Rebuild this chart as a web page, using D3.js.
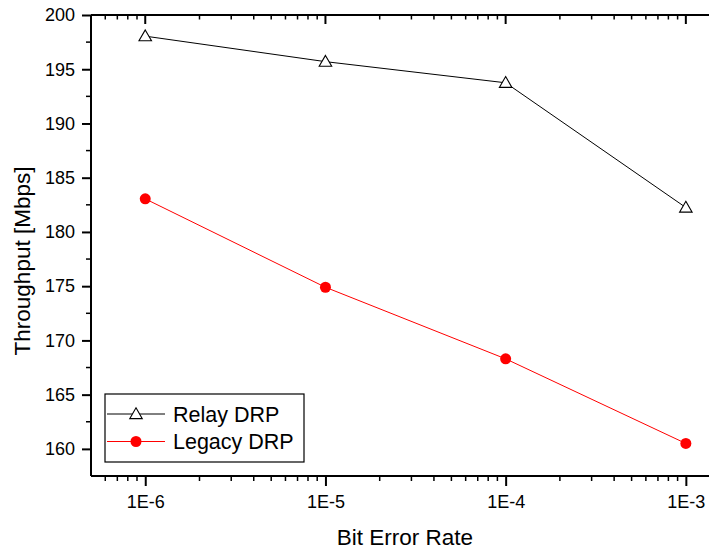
<!DOCTYPE html>
<html>
<head>
<meta charset="utf-8">
<script src="https://cdn.jsdelivr.net/npm/d3@7"></script>
<style>
  body { margin: 0; background: #fff; }
  text { font-family: Arial, "Liberation Sans", sans-serif; fill: #000; }
</style>
</head>
<body>
<svg width="709" height="550"></svg>
<script>
// data
const berValues = [1e-6, 1e-5, 1e-4, 1e-3];
const tickLabels = ['1E-6', '1E-5', '1E-4', '1E-3'];
const relayValues = [198.05, 195.7, 193.75, 182.25];
const legacyValues = [183.05, 174.9, 168.3, 160.5];
const seriesNames = ['Relay DRP', 'Legacy DRP'];

var svg = d3.select('svg'),
    plotLeft = 91, plotTop = 15, plotBottom = 476,
    decade = 180.2;

// x domain runs past the right edge of the picture, like the source
var x = d3.scaleLog()
    .domain([5e-7, 2e-3])
    .range([plotLeft, plotLeft + decade * Math.log10(2e-3 / 5e-7)]);
var y = d3.scaleLinear().domain([157.5, 200]).range([plotBottom, plotTop]);

const g = svg.append('g');

// minor ticks for the log axis
var minorX = [];
for (let e = -7; e <= -3; e++) {
  for (let m = 2; m <= 9; m++) {
    const v = m * Math.pow(10, e);
    if (v > x.domain()[0] && v < x.domain()[1]) minorX.push(v);
  }
}

// bottom axis
const xAxis = g.append('g').attr('transform', `translate(0,${plotBottom})`);
xAxis.call(d3.axisBottom(x).tickValues(berValues).tickFormat((d, i) => tickLabels[i]).tickSizeOuter(0).tickSize(10).tickPadding(9));
minorX.forEach(v => {
  xAxis.append('line').attr('x1', x(v)).attr('x2', x(v)).attr('y1', 0).attr('y2', 5)
    .attr('stroke', '#000').attr('stroke-width', 1.5);
});

// top axis, ticks inward
const topAxis = g.append('g').attr('transform', `translate(0,${plotTop})`);
topAxis.append('line').attr('x1', plotLeft).attr('x2', x.range()[1]).attr('stroke', '#000').attr('stroke-width', 2);
berValues.forEach(v => {
  topAxis.append('line').attr('x1', x(v)).attr('x2', x(v)).attr('y1', 0).attr('y2', 9)
    .attr('stroke', '#000').attr('stroke-width', 2);
});
minorX.forEach(v => {
  topAxis.append('line').attr('x1', x(v)).attr('x2', x(v)).attr('y1', 0).attr('y2', 4.5)
    .attr('stroke', '#000').attr('stroke-width', 1.5);
});

// left axis
const yAxis = g.append('g').attr('transform', `translate(${plotLeft},0)`);
yAxis.call(d3.axisLeft(y).tickValues(d3.range(160, 201, 5)).tickSizeOuter(0).tickSize(9).tickPadding(7));
d3.range(162.5, 200, 5).forEach(v => {
  yAxis.append('line').attr('x1', -5).attr('x2', 0).attr('y1', y(v)).attr('y2', y(v))
    .attr('stroke', '#000').attr('stroke-width', 1.5);
});

[xAxis, yAxis].forEach(a => {
  a.attr('font-size', 18).attr('font-family', 'Arial, "Liberation Sans", sans-serif');
  a.select('.domain').attr('stroke-width', 2);
  a.selectAll('.tick line').attr('stroke-width', 2);
});
xAxis.select('.domain').attr('d', `M${plotLeft},0H${x.range()[1]}`);
yAxis.select('.domain').attr('d', `M0,${plotBottom}V${plotTop}`);

// axis titles
svg.append('text').attr('x', 405).attr('y', 545).attr('text-anchor', 'middle')
  .attr('font-size', 22.5).text('Bit Error Rate');
svg.append('text').attr('transform', 'translate(30,261) rotate(-90)').attr('text-anchor', 'middle')
  .attr('font-size', 22.5).text('Throughput [Mbps]');

// series
var line = d3.line().x((d, i) => x(berValues[i])).y(d => y(d));
const tri = d3.symbol().type(d3.symbolTriangle).size(68);

g.append('path').datum(relayValues).attr('fill', 'none').attr('stroke', '#000').attr('stroke-width', 1).attr('d', line);
g.selectAll('.relay').data(relayValues).enter().append('path')
  .attr('class', 'relay')
  .attr('transform', (d, i) => `translate(${x(berValues[i])},${y(d) + 1})`)
  .attr('d', tri).attr('fill', '#fff').attr('stroke', '#000').attr('stroke-width', 1.1);

g.append('path').datum(legacyValues).attr('fill', 'none').attr('stroke', '#ff0000').attr('stroke-width', 1).attr('d', line);
g.selectAll('.legacy').data(legacyValues).enter().append('circle')
  .attr('class', 'legacy')
  .attr('cx', (d, i) => x(berValues[i])).attr('cy', d => y(d))
  .attr('r', 5.5).attr('fill', '#ff0000');

// legend
const lg = svg.append('g').attr('transform', 'translate(105,394)');
lg.append('rect').attr('width', 199).attr('height', 68).attr('fill', '#fff').attr('stroke', '#000').attr('stroke-width', 1.2);
const rows = [
  { y: 20, color: '#000', marker: 'tri' },
  { y: 47.5, color: '#ff0000', marker: 'dot' }
];
rows.forEach((r, i) => {
  lg.append('line').attr('x1', 2).attr('x2', 60).attr('y1', r.y).attr('y2', r.y).attr('stroke', r.color).attr('stroke-width', 1);
  if (r.marker === 'tri') {
    lg.append('path').attr('transform', `translate(31,${r.y + 1})`).attr('d', tri)
      .attr('fill', '#fff').attr('stroke', '#000').attr('stroke-width', 1.1);
  } else {
    lg.append('circle').attr('cx', 31).attr('cy', r.y).attr('r', 5.5).attr('fill', '#ff0000');
  }
  lg.append('text').attr('x', 68).attr('y', r.y + 7.5).attr('font-size', 21.5).text(seriesNames[i]);
});
</script>
</body>
</html>
